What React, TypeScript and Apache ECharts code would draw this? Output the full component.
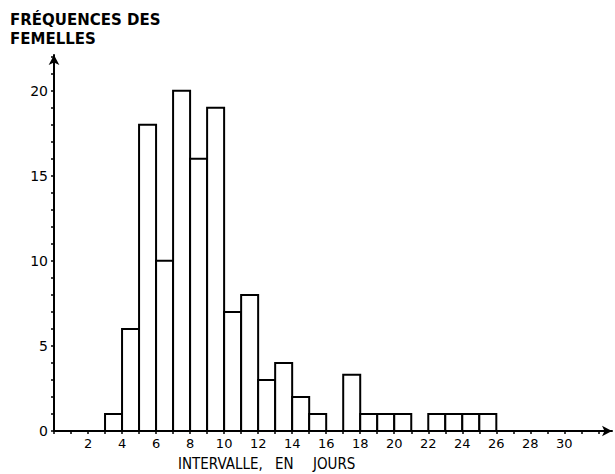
import React, { useEffect, useRef } from "react";
import * as echarts from "echarts";

const binStarts = [3, 4, 5, 6, 7, 8, 9, 10, 11, 12, 13, 14, 15, 17, 18, 19, 20, 22, 23, 24, 25];
const frequencies = [1, 6, 18, 10, 20, 16, 19, 7, 8, 3, 4, 2, 1, 3.3, 1, 1, 1, 1, 1, 1, 1];
const xTickLabels = [2, 4, 6, 8, 10, 12, 14, 16, 18, 20, 22, 24, 26, 28, 30];
const yTickLabels = [0, 5, 10, 15, 20];

const FONT = "DejaVu Sans";

export default function App() {
  const ref = useRef<HTMLDivElement>(null);
  useEffect(() => {
    const chart = echarts.init(ref.current!, null, { renderer: "svg" });
    const data = binStarts.map((s, i) => [s, s + 1, frequencies[i]]);
    chart.setOption({
      animation: false,
      backgroundColor: "#ffffff",
      grid: { left: 54, right: 3, top: 55, bottom: 43 },
      xAxis: {
        type: "value",
        min: 0,
        max: 32.8,
        interval: 1,
        splitLine: { show: false },
        axisLine: {
          show: true,
          lineStyle: { color: "#000", width: 2 },
          symbol: ["none", "arrow"],
          symbolSize: [8, 10],
        },
        axisTick: { show: true, length: 3, lineStyle: { color: "#000", width: 1.5 } },
        axisLabel: {
          color: "#000",
          fontFamily: FONT,
          fontSize: 13,
          margin: 6,
          showMaxLabel: false,
          formatter: (v: number) => (xTickLabels.indexOf(v) >= 0 ? String(v) : ""),
        },
      },
      yAxis: {
        type: "value",
        min: 0,
        max: 22.1,
        interval: 1,
        splitLine: { show: false },
        axisLine: {
          show: true,
          lineStyle: { color: "#000", width: 2 },
          symbol: ["none", "arrow"],
          symbolSize: [8, 10],
        },
        axisTick: { show: true, length: 3, lineStyle: { color: "#000", width: 1.5 } },
        axisLabel: {
          color: "#000",
          fontFamily: FONT,
          fontSize: 14,
          margin: 6,
          showMaxLabel: false,
          formatter: (v: number) => (yTickLabels.indexOf(v) >= 0 ? String(v) : ""),
        },
      },
      series: [
        {
          type: "custom",
          data,
          encode: { x: [0, 1], y: 2 },
          renderItem: (params: any, api: any) => {
            const p0 = api.coord([api.value(0), api.value(2)]);
            const p1 = api.coord([api.value(1), 0]);
            return {
              type: "rect",
              shape: { x: p0[0], y: p0[1], width: p1[0] - p0[0], height: p1[1] - p0[1] },
              style: { fill: "#fff", stroke: "#000", lineWidth: 2 },
            };
          },
        },
      ],
      graphic: [
        {
          type: "text",
          x: 10,
          y: 10,
          style: {
            text: "FRÉQUENCES DES\nFEMELLES",
            font: `bold 15px "${FONT}"`,
            lineHeight: 19,
            fill: "#000",
            textAlign: "left",
            textVerticalAlign: "top",
          },
        },
        {
          type: "text",
          x: 178,
          y: 456,
          scaleX: 0.9,
          style: {
            text: "INTERVALLE,",
            font: `15px "${FONT}"`,
            fill: "#000",
            textAlign: "left",
            textVerticalAlign: "top",
          },
        },
        {
          type: "text",
          x: 275,
          y: 456,
          scaleX: 0.9,
          style: {
            text: "EN",
            font: `15px "${FONT}"`,
            fill: "#000",
            textAlign: "left",
            textVerticalAlign: "top",
          },
        },
        {
          type: "text",
          x: 313,
          y: 456,
          scaleX: 0.9,
          style: {
            text: "JOURS",
            font: `15px "${FONT}"`,
            fill: "#000",
            textAlign: "left",
            textVerticalAlign: "top",
          },
        },
      ],
    });
    return () => chart.dispose();
  }, []);
  return <div ref={ref} style={{ width: 615, height: 474, position: "absolute", left: 0, top: 0 }} />;
}
